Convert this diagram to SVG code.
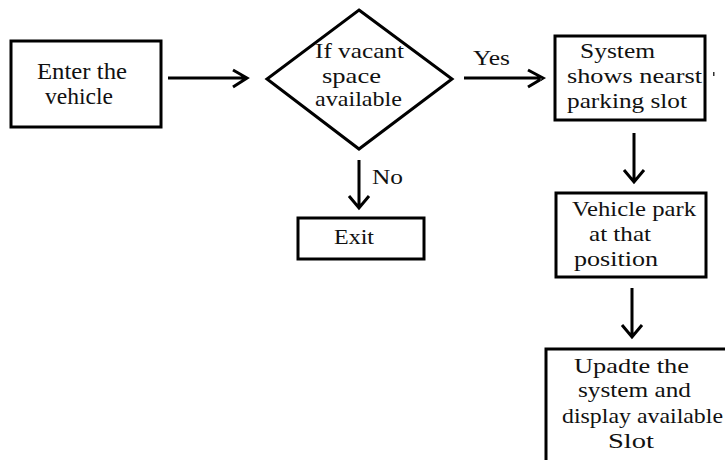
<svg xmlns="http://www.w3.org/2000/svg" width="725" height="460" viewBox="0 0 725 460">
<style>
.box{fill:#fff;stroke:#000;stroke-width:3}
.t{font-family:"Liberation Serif","Times New Roman",serif;font-size:21px;fill:#111}
.c{fill:none;stroke:#000;stroke-width:3}
</style>
<rect x="0" y="0" width="725" height="460" fill="#fff"/>
<g id="enter">
<rect class="box" x="11" y="41" width="150" height="86"/>
<text class="t" x="37" y="79" textLength="90" lengthAdjust="spacingAndGlyphs" style="font-size:23px">Enter the</text>
<text class="t" x="45" y="104" textLength="68" lengthAdjust="spacingAndGlyphs" style="font-size:23px">vehicle</text>
</g>
<g id="decision">
<polygon class="box" points="359,10 452,79 359,149 267,79"/>
<text class="t" x="315" y="58" textLength="89" lengthAdjust="spacingAndGlyphs">If vacant</text>
<text class="t" x="322" y="83" textLength="59" lengthAdjust="spacingAndGlyphs">space</text>
<text class="t" x="315" y="106" textLength="87" lengthAdjust="spacingAndGlyphs">available</text>
</g>
<g id="system">
<rect class="box" x="555" y="36" width="150" height="84"/>
<text class="t" x="580" y="58" textLength="75" lengthAdjust="spacingAndGlyphs">System</text>
<text class="t" x="567" y="83" textLength="135" lengthAdjust="spacingAndGlyphs">shows nearst</text>
<text class="t" x="567" y="108" textLength="120" lengthAdjust="spacingAndGlyphs">parking slot</text>
</g>
<g id="exit">
<rect class="box" x="298" y="218" width="126" height="41"/>
<text class="t" x="334" y="244" textLength="40" lengthAdjust="spacingAndGlyphs">Exit</text>
</g>
<g id="park">
<rect class="box" x="556" y="193" width="150" height="84"/>
<text class="t" x="572" y="216" textLength="124" lengthAdjust="spacingAndGlyphs">Vehicle park</text>
<text class="t" x="589" y="241" textLength="62" lengthAdjust="spacingAndGlyphs">at that</text>
<text class="t" x="574" y="266" textLength="84" lengthAdjust="spacingAndGlyphs">position</text>
</g>
<g id="update">
<rect class="box" x="546" y="349" width="190" height="120"/>
<text class="t" x="574" y="373" textLength="115" lengthAdjust="spacingAndGlyphs">Upadte the</text>
<text class="t" x="578" y="397" textLength="113" lengthAdjust="spacingAndGlyphs">system and</text>
<text class="t" x="562" y="423" textLength="161" lengthAdjust="spacingAndGlyphs">display available</text>
<text class="t" x="608" y="448" textLength="46" lengthAdjust="spacingAndGlyphs">Slot</text>
</g>
<g id="connectors">
<path class="c" d="M168,78 H246 M233,70 L247,78 L233,87"/>
<path class="c" d="M464,78 H542 M528,70 L543,78 L528,87"/>
<path class="c" d="M359,160 V207 M349,196 L359,208 L369,196"/>
<path class="c" d="M634,133 V181 M624,170 L634,182 L644,170"/>
<path class="c" d="M632,288 V336 M622,325 L632,337 L642,325"/>
<text class="t" x="473" y="65" textLength="37" lengthAdjust="spacingAndGlyphs">Yes</text>
<text class="t" x="372" y="184" textLength="31" lengthAdjust="spacingAndGlyphs">No</text>
</g>
<rect x="540" y="78" width="2" height="3" fill="#333"/>
<rect x="713" y="72" width="1.5" height="4" fill="#333"/>
</svg>
